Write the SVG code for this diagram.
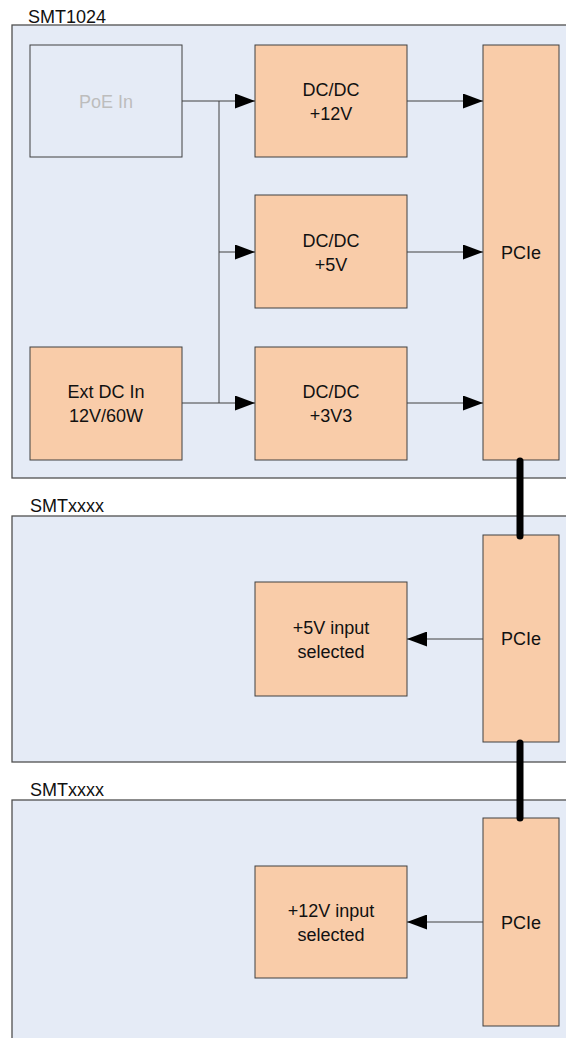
<svg xmlns="http://www.w3.org/2000/svg" width="566" height="1038" viewBox="0 0 566 1038">
<style>
.cont{fill:#e5ebf6;stroke:#505050;stroke-width:1.3}
.box{fill:#f9cca9;stroke:#404040;stroke-width:1}
.poe{fill:#e5ebf6;stroke:#404040;stroke-width:1}
text{font-family:"Liberation Sans",Arial,sans-serif;font-size:18px;fill:#111}
.c{text-anchor:middle}
.grey{fill:#bdbdbd}
.ln{stroke:#404040;stroke-width:1;fill:none}
.bus{stroke:#000;stroke-width:7;stroke-linecap:round;fill:none}
</style>
<defs>
<marker id="ah" viewBox="0 0 20 15" refX="20" refY="7.5" markerWidth="20" markerHeight="15" markerUnits="userSpaceOnUse" orient="auto">
<path d="M0,0 L20,7.5 L0,15 Z" fill="#000"/>
</marker>
</defs>
<rect width="566" height="1038" fill="#fff"/>
<g id="smt1024">
<rect class="cont" x="12" y="25" width="570" height="453"/>
<text x="28" y="23">SMT1024</text>
</g>
<g id="smtxxxx1">
<rect class="cont" x="12" y="516" width="570" height="246"/>
<text x="30" y="512">SMTxxxx</text>
</g>
<g id="smtxxxx2">
<rect class="cont" x="12" y="800" width="570" height="260"/>
<text x="30" y="796">SMTxxxx</text>
</g>
<g id="poe">
<rect class="poe" x="30" y="45" width="152" height="112"/>
<text class="c grey" x="106" y="107.5">PoE In</text>
</g>
<g id="extdc">
<rect class="box" x="30" y="347" width="152" height="113"/>
<text class="c" x="106" y="398">Ext DC In</text>
<text class="c" x="106" y="422">12V/60W</text>
</g>
<g id="dc12">
<rect class="box" x="255" y="45" width="152" height="112"/>
<text class="c" x="331" y="95.5">DC/DC</text>
<text class="c" x="331" y="119.5">+12V</text>
</g>
<g id="dc5">
<rect class="box" x="255" y="195" width="152" height="113"/>
<text class="c" x="331" y="246.5">DC/DC</text>
<text class="c" x="331" y="270.5">+5V</text>
</g>
<g id="dc33">
<rect class="box" x="255" y="347" width="152" height="113"/>
<text class="c" x="331" y="398">DC/DC</text>
<text class="c" x="331" y="422">+3V3</text>
</g>
<g id="pcie1">
<rect class="box" x="483" y="45" width="76" height="415"/>
<text class="c" x="521" y="259">PCIe</text>
</g>
<g id="sel5">
<rect class="box" x="255" y="582" width="152" height="114"/>
<text class="c" x="331" y="633.5">+5V input</text>
<text class="c" x="331" y="657.5">selected</text>
</g>
<g id="pcie2">
<rect class="box" x="483" y="535" width="76" height="207"/>
<text class="c" x="521" y="645">PCIe</text>
</g>
<g id="sel12">
<rect class="box" x="255" y="866" width="152" height="112"/>
<text class="c" x="331" y="916.5">+12V input</text>
<text class="c" x="331" y="940.5">selected</text>
</g>
<g id="pcie3">
<rect class="box" x="483" y="818" width="76" height="208"/>
<text class="c" x="521" y="928.5">PCIe</text>
</g>
<g id="connectors">
<path class="ln" d="M182,101 H255" marker-end="url(#ah)"/>
<path class="ln" d="M219,101 V403"/>
<path class="ln" d="M219,252 H255" marker-end="url(#ah)"/>
<path class="ln" d="M182,403 H255" marker-end="url(#ah)"/>
<path class="ln" d="M407,101 H483" marker-end="url(#ah)"/>
<path class="ln" d="M407,252 H483" marker-end="url(#ah)"/>
<path class="ln" d="M407,403 H483" marker-end="url(#ah)"/>
<path class="ln" d="M483,639 H407" marker-end="url(#ah)"/>
<path class="ln" d="M483,922 H407" marker-end="url(#ah)"/>
<path class="bus" d="M520,461 V536"/>
<path class="bus" d="M520,743 V818"/>
</g>
</svg>
